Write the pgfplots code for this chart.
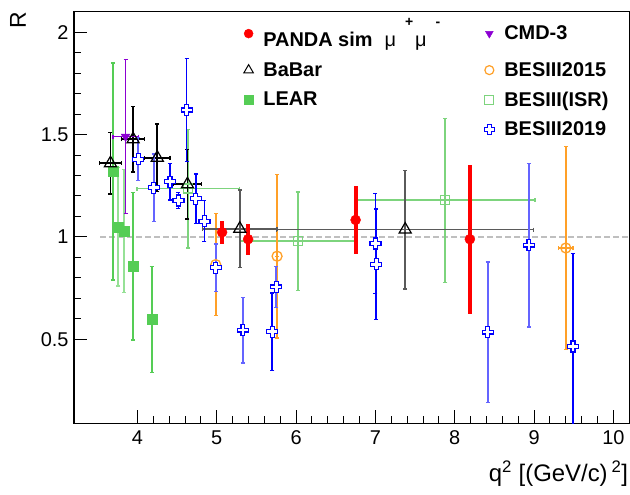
\documentclass[border=0pt]{standalone}
\usepackage{pgfplots}
\pgfplotsset{compat=1.18}
\usepackage{fontspec}
\setmainfont{Liberation Sans}
\definecolor{pred}{RGB}{255,0,0}
\definecolor{cmd}{RGB}{140,0,210}
\definecolor{bor}{RGB}{255,160,40}
\definecolor{lear}{RGB}{85,205,85}
\definecolor{learl}{RGB}{150,225,150}
\definecolor{isr}{RGB}{125,212,125}
\definecolor{bdark}{RGB}{0,0,255}
\definecolor{blight}{RGB}{100,100,255}
\definecolor{bgray}{RGB}{90,90,90}
\pgfdeclareplotmark{ocross}{%
  \pgfpathmoveto{\pgfqpoint{-0.35\pgfplotmarksize}{\pgfplotmarksize}}%
  \pgfpathlineto{\pgfqpoint{0.35\pgfplotmarksize}{\pgfplotmarksize}}%
  \pgfpathlineto{\pgfqpoint{0.35\pgfplotmarksize}{0.35\pgfplotmarksize}}%
  \pgfpathlineto{\pgfqpoint{\pgfplotmarksize}{0.35\pgfplotmarksize}}%
  \pgfpathlineto{\pgfqpoint{\pgfplotmarksize}{-0.35\pgfplotmarksize}}%
  \pgfpathlineto{\pgfqpoint{0.35\pgfplotmarksize}{-0.35\pgfplotmarksize}}%
  \pgfpathlineto{\pgfqpoint{0.35\pgfplotmarksize}{-\pgfplotmarksize}}%
  \pgfpathlineto{\pgfqpoint{-0.35\pgfplotmarksize}{-\pgfplotmarksize}}%
  \pgfpathlineto{\pgfqpoint{-0.35\pgfplotmarksize}{-0.35\pgfplotmarksize}}%
  \pgfpathlineto{\pgfqpoint{-\pgfplotmarksize}{-0.35\pgfplotmarksize}}%
  \pgfpathlineto{\pgfqpoint{-\pgfplotmarksize}{0.35\pgfplotmarksize}}%
  \pgfpathlineto{\pgfqpoint{-0.35\pgfplotmarksize}{0.35\pgfplotmarksize}}%
  \pgfpathclose
  \pgfusepathqfillstroke
}
\pgfplotstableread{
x y ey
5.067 1.023 0.055
5.395 0.989 0.075
6.75 1.083 0.165
8.19 0.989 0.364
}\panda
\pgfplotstableread{
x y ex ey
3.66 1.36 0.14 0.15
3.945 1.477 0.145 0.16
4.25 1.387 0.16 0.165
4.63 1.257 0.18 0.17
}\babarA
\pgfplotstableread{
x y ex ey
5.29 1.04 0.47 0.19
7.375 1.036 1.62 0.29
}\babarB
\pgfplotstableread{
x y ey
3.755 1.05 0.29
3.83 1.03 0.30
}\learL
\pgfplotstableread{
x y ey
3.69 1.32 0.53
3.94 0.857 0.36
4.18 0.597 0.26
}\learD
\pgfplotstableread{
x y ex ey
3.85 1.49 0.16 0.377
}\cmd
\pgfplotstableread{
x y ex ey
4.987 0.865 0 0.25
5.76 0.906 0 0.40
9.40 0.946 0.09 0.497
}\bes
\pgfplotstableread{
x y ex ey
4.64 1.236 0.645 0.29
6.02 0.979 0.73 0.24
7.88 1.179 1.13 0.40
}\isr
\pgfplotstableread{
x y ey
4.01 1.379 0.105
4.205 1.24 0.165
4.987 0.85 0.115
5.33 0.545 0.16
5.75 0.756 0.10
8.414 0.535 0.343
8.935 0.96 0.40
}\bnL
\pgfplotstableread{
x y ey
4.41 1.27 0.09
4.517 1.178 0.04
4.62 1.62 0.25
4.735 1.187 0.12
4.845 1.077 0.10
5.70 0.537 0.19
7.0 0.968 0.245
7.01 0.867 0.27
9.49 0.465 0.455
}\bnD
\begin{document}
\begin{tikzpicture}
\useasboundingbox (-74bp,-71.7bp) rectangle (556bp,423.3bp);
\begin{axis}[
  scale only axis, width=555.3bp, height=411.6bp,
  xmin=3.2, xmax=10.2, ymin=0.09, ymax=2.1,
  xtick={4,5,6,7,8,9,10}, ytick={0.5,1,1.5,2},
  minor x tick num=4, minor y tick num=4,
  xtick pos=bottom, ytick pos=left, tick align=inside,
  major tick length=13bp, minor tick length=7bp,
  axis line style={line width=1.2bp},
  tick style={line width=1bp, black},
  /pgf/number format/assume math mode=true,
  ticklabel style={font=\fontsize{20}{24}\selectfont},
  xticklabel style={yshift=-4bp},
  yticklabel style={xshift=-2bp},
  xlabel={q\textsuperscript{2} [(GeV/c)\,\textsuperscript{2}]},
  ylabel={R},
  every axis x label/.style={at={(rel axis cs:1,0)}, anchor=north east, yshift=-37bp, xshift=-1bp, inner sep=0pt, font=\fontsize{24}{28}\selectfont},
  every axis y label/.style={at={(rel axis cs:0,1)}, xshift=-56bp, yshift=-9bp, rotate=90, anchor=center, inner sep=0pt, font=\fontsize{23}{27}\selectfont},
  legend columns=2,
  legend cell align=left,
  legend style={draw=none, fill=none, at={(rel axis cs:0.2934,0.993)}, anchor=north west,
    font=\fontsize{20}{24}\selectfont\bfseries, row sep=10bp,
    /tikz/every even column/.append style={column sep=42bp}},
]
% dashed reference line
\addplot[forget plot, draw=black!25, line width=1.3bp, dash pattern=on 6bp off 3bp] coordinates {(3.53,1) (10.2,1)};
% LEAR light
\addplot[forget plot, only marks, mark=square*, mark size=5bp, color=lear, mark options={draw=lear, fill=lear},
  error bars/.cd, y dir=both, y explicit, error bar style={learl, line width=1.7bp}, error mark options={rotate=90, mark size=2bp, learl, line width=1.3bp}]
  table[x=x, y=y, y error=ey] {\learL};
% LEAR dark
\addplot[forget plot, only marks, mark=square*, mark size=5bp, color=lear, mark options={draw=lear, fill=lear},
  error bars/.cd, y dir=both, y explicit, error bar style={lear, line width=1.7bp}, error mark options={rotate=90, mark size=2bp, lear, line width=1.3bp}]
  table[x=x, y=y, y error=ey] {\learD};
% BESIII ISR
\addplot[forget plot, only marks, mark=square, mark size=4.5bp, color=isr, mark options={draw=isr, fill=white, line width=1.3bp},
  error bars/.cd, x dir=both, x explicit, y dir=both, y explicit, error bar style={isr, line width=1.7bp}, error mark options={rotate=90, mark size=2bp, isr, line width=1.3bp}]
  table[x=x, y=y, x error=ex, y error=ey] {\isr};
% BESIII2015
\addplot[forget plot, only marks, mark=o, mark size=5bp, color=bor, mark options={draw=bor, fill=white, line width=1.3bp},
  error bars/.cd, x dir=both, x explicit, y dir=both, y explicit, error bar style={bor, line width=1.7bp}, error mark options={rotate=90, mark size=2bp, bor, line width=1.3bp}]
  table[x=x, y=y, x error=ex, y error=ey] {\bes};
% BaBar
\addplot[forget plot, only marks, mark=triangle, mark size=7bp, color=black, mark options={draw=black, fill=white, line width=1.2bp},
  error bars/.cd, x dir=both, x explicit, y dir=both, y explicit, error bar style={black, line width=1.7bp}, error mark options={rotate=90, mark size=2bp, black, line width=1.3bp}]
  table[x=x, y=y, x error=ex, y error=ey] {\babarA};
\addplot[forget plot, only marks, mark=triangle, mark size=7bp, color=black, mark options={draw=black, fill=white, line width=1.2bp},
  error bars/.cd, x dir=both, x explicit, y dir=both, y explicit, error bar style={bgray, line width=1.7bp}, error mark options={rotate=90, mark size=2bp, bgray, line width=1.3bp}]
  table[x=x, y=y, x error=ex, y error=ey] {\babarB};
% CMD-3
\addplot[forget plot, only marks, mark=triangle*, mark size=5bp, color=cmd, mark options={draw=cmd, fill=cmd, rotate=180},
  error bars/.cd, x dir=both, x explicit, y dir=both, y explicit, error bar style={cmd, line width=1.7bp}, error mark options={rotate=90, mark size=2bp, cmd, line width=1.3bp}]
  table[x=x, y=y, x error=ex, y error=ey] {\cmd};
% BESIII2019
\addplot[forget plot, only marks, mark=ocross, mark size=5.5bp, color=bdark, mark options={draw=bdark, fill=white, line width=1.2bp},
  error bars/.cd, y dir=both, y explicit, error bar style={blight, line width=1.9bp}, error mark options={rotate=90, mark size=2bp, blight, line width=1.3bp}]
  table[x=x, y=y, y error=ey] {\bnL};
\addplot[forget plot, only marks, mark=ocross, mark size=5.5bp, color=bdark, mark options={draw=bdark, fill=white, line width=1.2bp},
  error bars/.cd, y dir=both, y explicit, error bar style={bdark, line width=1.7bp}, error mark options={rotate=90, mark size=2bp, bdark, line width=1.3bp}]
  table[x=x, y=y, y error=ey] {\bnD};
% PANDA
\addplot[forget plot, only marks, mark=*, mark size=5bp, color=pred, mark options={draw=pred, fill=pred},
  error bars/.cd, y dir=both, y explicit, error mark=none, error bar style={pred, line width=4bp}]
  table[x=x, y=y, y error=ey] {\panda};
% legend
\addlegendimage{only marks, mark=*, mark size=4.5bp, pred, mark options={fill=pred}}
\addlegendentry{\hspace{8bp}PANDA sim\hspace{12bp}{\mdseries μ\hspace{9bp}\raisebox{20bp}{\fontsize{14}{14}\selectfont\bfseries +}\hspace{2bp}μ\hspace{9bp}\raisebox{20bp}{\fontsize{14}{14}\selectfont\bfseries -}}}
\addlegendimage{only marks, mark=triangle*, mark size=4.5bp, cmd, mark options={fill=cmd, rotate=180}}
\addlegendentry{\hspace{8bp}CMD-3}
\addlegendimage{only marks, mark=triangle, mark size=5.5bp, black, mark options={fill=white, line width=1bp}}
\addlegendentry{\hspace{8bp}BaBar}
\addlegendimage{only marks, mark=o, mark size=4.5bp, bor, mark options={fill=white, line width=1.2bp}}
\addlegendentry{\hspace{8bp}BESIII2015}
\addlegendimage{only marks, mark=square*, mark size=4.5bp, lear, mark options={fill=lear}}
\addlegendentry{\hspace{8bp}LEAR}
\addlegendimage{only marks, mark=square, mark size=4.5bp, isr, mark options={fill=white, line width=1.2bp}}
\addlegendentry{\hspace{8bp}BESIII(ISR)}
\addlegendimage{empty legend}
\addlegendentry{}
\addlegendimage{only marks, mark=ocross, mark size=5bp, bdark, mark options={fill=white, line width=1.1bp}}
\addlegendentry{\hspace{8bp}BESIII2019}
\end{axis}
\end{tikzpicture}
\end{document}
